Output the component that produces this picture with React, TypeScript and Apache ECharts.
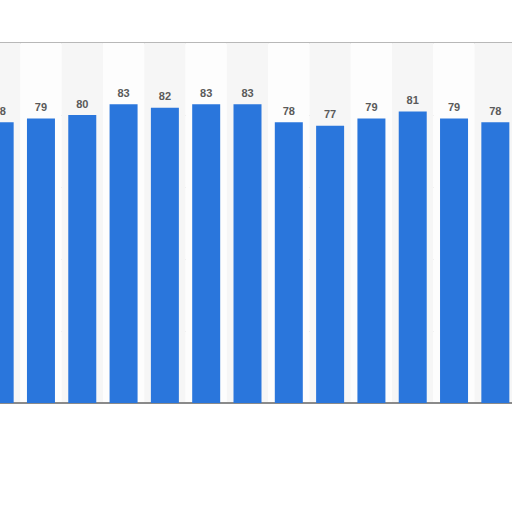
import { useEffect, useRef } from 'react';
import * as echarts from 'echarts';

const categories = ['1', '2', '3', '4', '5', '6', '7', '8', '9', '10', '11', '12', '13'];
const values = [78, 79, 80, 83, 82, 83, 83, 78, 77, 79, 81, 79, 78];
const yTicks = { min: 0, max: 100, interval: 20 };

function App() {
  const chartRef = useRef<HTMLDivElement>(null);

  useEffect(() => {
    if (!chartRef.current) return;
    const chart = echarts.init(chartRef.current, undefined, { renderer: 'svg' });

    chart.setOption({
      animation: false,
      grid: {
        left: 0,
        right: 0,
        top: 43,
        height: 360,
        show: true,
        borderColor: '#b8b8b8',
        borderWidth: 2,
        backgroundColor: 'transparent',
      },
      xAxis: {
        type: 'category',
        data: categories,
        axisLine: { show: true, lineStyle: { color: '#8a8a8a', width: 2 } },
        axisTick: { show: false },
        axisLabel: { show: false },
        splitArea: { show: true, areaStyle: { color: ['#f6f6f6', '#fdfdfd'] } },
      },
      yAxis: {
        type: 'value',
        min: yTicks.min,
        max: yTicks.max,
        interval: yTicks.interval,
        axisLine: { show: false },
        axisTick: { show: false },
        axisLabel: { show: false },
        splitLine: { lineStyle: { color: '#cfcfcf', type: 'dotted', width: 1 } },
      },
      series: [
        {
          type: 'bar',
          data: values,
          barWidth: 28,
          itemStyle: { color: '#2a76dc' },
          label: {
            show: true,
            position: 'top',
            distance: 6,
            fontSize: 11,
            fontWeight: 'bold',
            color: '#5a5a5a',
            fontFamily: 'Liberation Sans, Arial, sans-serif',
          },
        },
      ],
    });

    return () => chart.dispose();
  }, []);

  return (
    <div style={{ position: 'fixed', left: 0, top: 0, width: '512px', height: '512px', overflow: 'hidden', background: '#ffffff' }}>
      <div ref={chartRef} style={{ position: 'absolute', left: '-21px', top: 0, width: '537px', height: '512px' }} />
    </div>
  );
}

export default App;
